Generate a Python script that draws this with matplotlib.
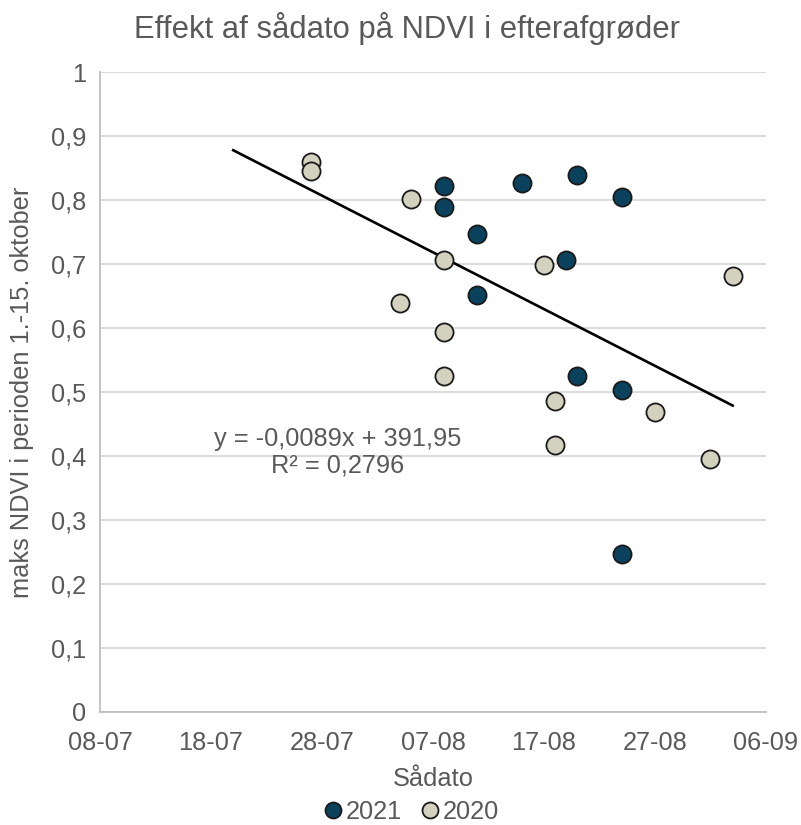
import datetime as dt
import numpy as np
import matplotlib
matplotlib.use('Agg')
import matplotlib.pyplot as plt
import matplotlib.dates as mdates
from matplotlib.lines import Line2D

plt.rcParams['font.family'] = ['Liberation Sans', 'DejaVu Sans']

# sowing dates (day, month) and max NDVI
dates_2021 = [(8, 8), (8, 8), (11, 8), (11, 8), (15, 8), (20, 8), (19, 8), (20, 8), (24, 8), (24, 8), (24, 8)]
ndvi_2021 = [0.822, 0.789, 0.747, 0.652, 0.827, 0.839, 0.706, 0.525, 0.805, 0.503, 0.247]

dates_2020 = [(27, 7), (27, 7), (5, 8), (8, 8), (4, 8), (8, 8), (8, 8), (17, 8), (18, 8), (18, 8), (27, 8), (1, 9), (3, 9)]
ndvi_2020 = [0.859, 0.845, 0.802, 0.707, 0.639, 0.593, 0.525, 0.698, 0.486, 0.417, 0.469, 0.396, 0.681]

eq_text = "y = -0,0089x + 391,95\nR² = 0,2796"

def to_dates(lst):
    return [dt.date(2021, m, d) for d, m in lst]

x21 = to_dates(dates_2021)
x20 = to_dates(dates_2020)

navy = '#0a425e'
beige = '#d3d2be'
grey_txt = '#595959'

fig = plt.figure(figsize=(8.01, 8.25), dpi=100)
ax = fig.add_axes([0.1248, 0.137, 0.8315, 0.7757])

ax.scatter(x21, ndvi_2021, s=170, c=navy, edgecolors='#1a1a1a', linewidths=1.3, zorder=3, label='2021')
ax.scatter(x20, ndvi_2020, s=170, c=beige, edgecolors='#1a1a1a', linewidths=1.3, zorder=3, label='2020')

# linear trendline over both years (drawn with 7 days backward extension like Excel)
allx = np.array([mdates.date2num(d) for d in x21 + x20])
ally = np.array(ndvi_2021 + ndvi_2020)
k, b = np.polyfit(allx, ally, 1)
t0 = allx.min() - 7
t1 = allx.max()
ax.plot([t0, t1], [k * t0 + b, k * t1 + b], color='black', lw=1.9, zorder=2)

ax.text(mdates.date2num(dt.date(2021, 7, 29)) + 0.4, 0.406, eq_text, ha='center', va='center',
        fontsize=18.3, color=grey_txt, linespacing=1.12)

ax.set_xlim(dt.date(2021, 7, 8), dt.date(2021, 9, 6))
ax.set_ylim(0, 1)
ticks = [mdates.date2num(dt.date(2021, 7, 8)) + 10 * i for i in range(7)]
ax.set_xticks(ticks)
ax.xaxis.set_major_formatter(mdates.DateFormatter('%d-%m'))
ax.set_yticks(np.arange(0, 1.01, 0.1))
ax.set_yticklabels(['0'] + [f'0,{i}' for i in range(1, 10)] + ['1'])

ax.grid(axis='y', color='#d9d9d9', lw=1.3)
ax.set_axisbelow(True)
for s in ['top', 'right']:
    ax.spines[s].set_visible(False)
for s in ['left', 'bottom']:
    ax.spines[s].set_color('#bfbfbf')
    ax.spines[s].set_linewidth(1.3)
ax.tick_params(length=0, labelsize=18.3, colors=grey_txt, pad=10)
ax.tick_params(axis='x', pad=14)

ax.set_xlabel('Sådato', fontsize=18.3, color=grey_txt, labelpad=8)
ax.set_ylabel('maks NDVI i perioden 1.-15. oktober', fontsize=18.3, color=grey_txt, labelpad=12)
fig.text(0.508, 0.966, 'Effekt af sådato på NDVI i efterafgrøder', fontsize=22.3, color=grey_txt,
         ha='center', va='center')

handles = [Line2D([], [], marker='o', ls='', markersize=11.5, markerfacecolor=navy, markeredgecolor='#1a1a1a', markeredgewidth=1.3),
           Line2D([], [], marker='o', ls='', markersize=11.5, markerfacecolor=beige, markeredgecolor='#1a1a1a', markeredgewidth=1.3)]
fig.legend(handles, ['2021', '2020'], loc='center', bbox_to_anchor=(0.511, 0.0155), ncol=2, frameon=False,
           fontsize=18.3, labelcolor=grey_txt, handletextpad=0.0, columnspacing=0.6, handlelength=1.0,
           borderpad=0.1)

fig.savefig('out.png', dpi=100)
